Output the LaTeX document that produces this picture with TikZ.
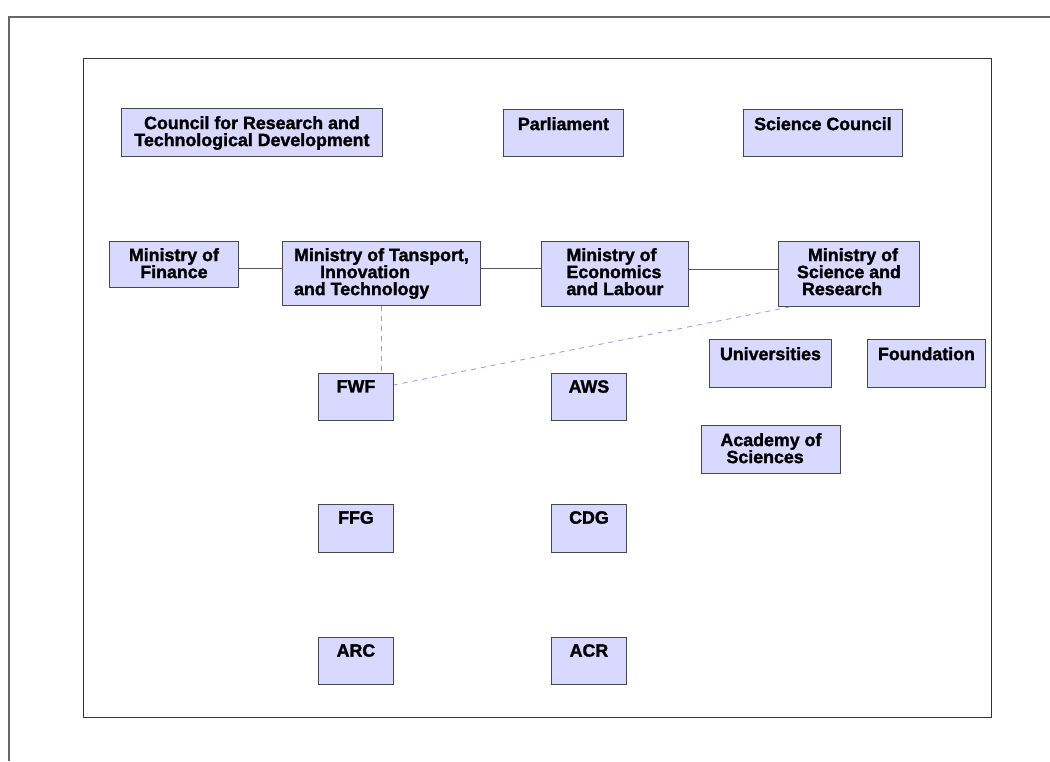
\documentclass[tikz,border=0pt]{standalone}
\usepackage{fontspec}
\setmainfont{Liberation Sans}[BoldFeatures={FakeBold=1.6}]
\definecolor{boxfill}{RGB}{217,217,255}
\definecolor{boxline}{RGB}{70,70,80}
\definecolor{connline}{RGB}{90,90,90}
\definecolor{dashline}{RGB}{150,150,235}
\definecolor{frameline}{RGB}{50,50,50}
\tikzset{
  box/.style={draw=boxline, fill=boxfill, line width=0.9pt, anchor=north west, inner sep=0pt},
  lbl/.style={anchor=north, font=\bfseries\fontsize{17.8}{17}\selectfont, inner sep=0pt, align=center},
  lbll/.style={lbl, align=left},
  conn/.style={draw=connline, line width=0.9pt},
  dconn/.style={draw=dashline, line width=0.8pt, dash pattern=on 5pt off 5pt},
  frame/.style={draw=frameline, line width=1pt},
}
\begin{document}
\begin{tikzpicture}[x=1pt, y=-1pt]
\useasboundingbox (0,0) rectangle (1050,761);
% frames
\draw[frame, draw=gray!80!black, line width=1.3pt] (9,761) -- (9,17) -- (1050,17);
\draw[frame] (83,58) rectangle (991,717);

% top row
\node[box, minimum width=261pt, minimum height=48pt] (council) at (121,108) {};
\node[lbl] (council-t) at ([yshift=-8pt]council.north) {Council for Research and\\Technological Development};
\node[box, minimum width=120pt, minimum height=47pt] (parl) at (503,109) {};
\node[lbl] (parl-t) at ([yshift=-8pt]parl.north) {Parliament};
\node[box, minimum width=159pt, minimum height=47pt] (scc) at (743,109) {};
\node[lbl] (scc-t) at ([yshift=-8pt]scc.north) {Science Council};

% ministries
\node[box, minimum width=129pt, minimum height=46pt] (fin) at (109,241) {};
\node[lbl] (fin-t) at ([yshift=-7pt]fin.north) {Ministry of\\Finance};
\node[box, minimum width=198pt, minimum height=64pt] (mtit) at (282,241) {};
\node[lbll] (mtit-t) at ([yshift=-7pt]mtit.north) {Ministry of Tansport,\\\hspace*{26pt}Innovation\\and Technology};
\node[box, minimum width=147pt, minimum height=65pt] (econ) at (541,241) {};
\node[lbll] (econ-t) at ([yshift=-7pt]econ.north) {Ministry of\\Economics\\and Labour};
\node[box, minimum width=141pt, minimum height=65pt] (msr) at (778,241) {};
\node[lbll] (msr-t) at ([yshift=-7pt]msr.north) {\hspace*{11pt}Ministry of\\Science and\\\hspace*{5pt}Research};

% agencies
\node[box, minimum width=75pt, minimum height=47pt] (fwf) at (318,373) {};
\node[lbl] (fwf-t) at ([yshift=-7pt]fwf.north) {FWF};
\node[box, minimum width=75pt, minimum height=47pt] (aws) at (551,373) {};
\node[lbl] (aws-t) at ([yshift=-7pt]aws.north) {AWS};
\node[box, minimum width=75pt, minimum height=48pt] (ffg) at (318,504) {};
\node[lbl] (ffg-t) at ([yshift=-7pt]ffg.north) {FFG};
\node[box, minimum width=75pt, minimum height=48pt] (cdg) at (551,504) {};
\node[lbl] (cdg-t) at ([yshift=-7pt]cdg.north) {CDG};
\node[box, minimum width=75pt, minimum height=47pt] (arc) at (318,637) {};
\node[lbl] (arc-t) at ([yshift=-7pt]arc.north) {ARC};
\node[box, minimum width=75pt, minimum height=47pt] (acr) at (551,637) {};
\node[lbl] (acr-t) at ([yshift=-7pt]acr.north) {ACR};

\node[box, minimum width=122pt, minimum height=48pt] (uni) at (709,339) {};
\node[lbl] (uni-t) at ([yshift=-8pt]uni.north) {Universities};
\node[box, minimum width=118pt, minimum height=48pt] (found) at (867,339) {};
\node[lbl] (found-t) at ([yshift=-8pt]found.north) {Foundation};
\node[box, minimum width=139pt, minimum height=48pt] (acad) at (701,425) {};
\node[lbll] (acad-t) at ([yshift=-8pt]acad.north) {Academy of\\\hspace*{6pt}Sciences};

% connectors
\draw[conn] ([yshift=-4pt]fin.east) -- ([yshift=-4pt]fin.east -| mtit.west);
\draw[conn] ([yshift=5pt]mtit.east) -- ([yshift=5pt]mtit.east -| econ.west);
\draw[conn] ([yshift=5pt]econ.east) -- ([yshift=5pt]econ.east -| msr.west);
\draw[dconn] (mtit.south) -- (mtit.south |- fwf.north);
\draw[dconn] ([xshift=12pt]msr.south west) -- ([yshift=12pt]fwf.east);
\end{tikzpicture}
\end{document}
